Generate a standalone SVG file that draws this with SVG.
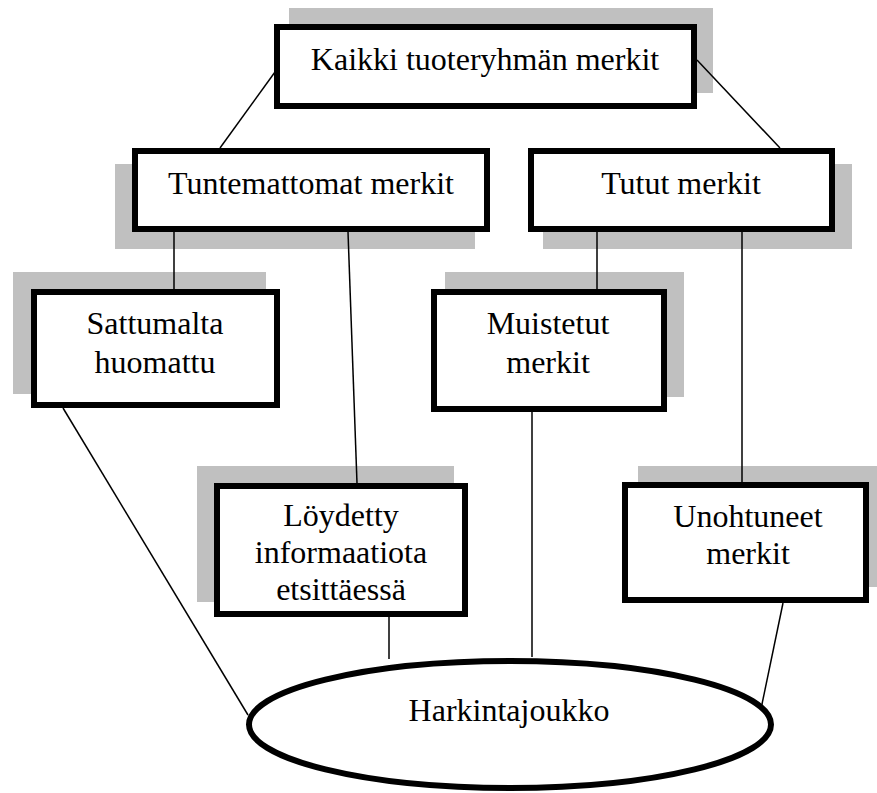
<svg xmlns="http://www.w3.org/2000/svg" width="877" height="793" viewBox="0 0 877 793">
<style>
.sh{fill:#c0c0c0;stroke:none}
.bx{fill:#fff;stroke:#000;stroke-width:6}
.t{font-family:"Liberation Serif","Times New Roman",serif;font-size:32px;fill:#000;text-anchor:middle}
.c line{stroke:#000;stroke-width:1.5}
</style>
<rect width="877" height="793" fill="#fff"/>
<g id="n-kaikki">
<rect class="sh" x="289" y="8" width="424" height="85"/>
<rect class="bx" x="277" y="27" width="417" height="79"/>
<text class="t" x="485" y="70">Kaikki tuoteryhmän merkit</text>
</g>
<g id="n-tuntemattomat">
<rect class="sh" x="115" y="164" width="360" height="85"/>
<rect class="bx" x="135" y="151" width="352" height="78"/>
<text class="t" x="311" y="194">Tuntemattomat merkit</text>
</g>
<g id="n-tutut">
<rect class="sh" x="543" y="164" width="309" height="85"/>
<rect class="bx" x="531" y="151" width="301" height="78"/>
<text class="t" x="681" y="194">Tutut merkit</text>
</g>
<g id="n-sattumalta">
<rect class="sh" x="13" y="272" width="253" height="122"/>
<rect class="bx" x="34" y="292" width="243" height="113"/>
<text class="t" x="155" y="334">Sattumalta</text>
<text class="t" x="155" y="373">huomattu</text>
</g>
<g id="n-muistetut">
<rect class="sh" x="445" y="272" width="239" height="125"/>
<rect class="bx" x="434" y="292" width="230" height="117"/>
<text class="t" x="548" y="334">Muistetut</text>
<text class="t" x="548" y="373">merkit</text>
</g>
<g id="n-loydetty">
<rect class="sh" x="197" y="466" width="257" height="136"/>
<rect class="bx" x="217" y="486" width="248" height="128"/>
<text class="t" x="341" y="526">Löydetty</text>
<text class="t" x="341" y="563">informaatiota</text>
<text class="t" x="341" y="600">etsittäessä</text>
</g>
<g id="n-unohtuneet">
<rect class="sh" x="638" y="466" width="247" height="121"/>
<rect class="bx" x="625" y="485" width="241" height="115"/>
<text class="t" x="748" y="527">Unohtuneet</text>
<text class="t" x="748" y="564">merkit</text>
</g>
<g id="n-harkintajoukko">
<ellipse class="bx" cx="510" cy="724.5" rx="261" ry="63.5"/>
<text class="t" x="509" y="721">Harkintajoukko</text>
</g>
<g id="connectors" class="c">
<line x1="275" y1="72" x2="220" y2="148"/>
<line x1="697" y1="60" x2="780" y2="148"/>
<line x1="174" y1="232" x2="174" y2="289"/>
<line x1="348" y1="232" x2="357" y2="483"/>
<line x1="597" y1="232" x2="597" y2="289"/>
<line x1="742" y1="232" x2="742" y2="482"/>
<line x1="63" y1="408" x2="248" y2="715"/>
<line x1="389" y1="617" x2="389" y2="659"/>
<line x1="532" y1="412" x2="532" y2="657"/>
<line x1="783" y1="603" x2="761" y2="709"/>
</g>
</svg>
